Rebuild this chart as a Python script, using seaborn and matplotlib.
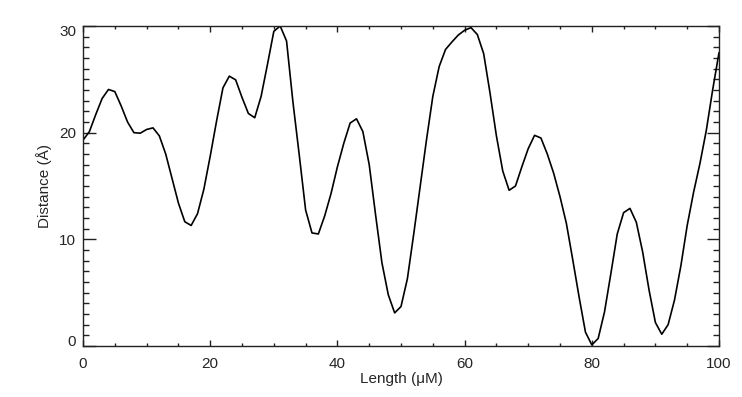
# ============================================================
# Distance profile along length
# ============================================================

import numpy as np
import pandas as pd
import matplotlib
matplotlib.use("Agg")
import matplotlib.pyplot as plt
import matplotlib.transforms as mtransforms
from matplotlib.ticker import MultipleLocator
import seaborn as sns

# ============================================================
# Data (one point per unit of length)
# ============================================================

length = list(range(0, 101))

distance = [
    19.3, 20.1, 21.7, 23.2, 24.05, 23.85, 22.5, 21.0, 20.0, 19.95,
    20.3, 20.45, 19.7, 18.0, 15.7, 13.4, 11.65, 11.3, 12.4, 14.7,
    17.8, 21.1, 24.2, 25.3, 24.95, 23.3, 21.8, 21.4, 23.4, 26.4,
    29.5, 30.0, 28.6, 22.9, 17.9, 12.75, 10.6, 10.5, 12.2, 14.3,
    16.8, 19.0, 20.9, 21.3, 20.1, 17.0, 12.3, 7.8, 4.8, 3.1,
    3.7, 6.3, 10.5, 14.9, 19.3, 23.4, 26.2, 27.8, 28.5, 29.15,
    29.6, 29.85, 29.2, 27.4, 23.7, 19.7, 16.4, 14.6, 15.0, 16.8,
    18.5, 19.75, 19.5, 18.0, 16.2, 14.0, 11.5, 8.1, 4.6, 1.3,
    0.1, 0.7, 3.2, 6.8, 10.5, 12.5, 12.9, 11.6, 8.8, 5.25,
    2.2, 1.1, 2.0, 4.3, 7.5, 11.3, 14.4, 17.1, 20.2, 24.0,
    27.5
]

x_ticks = [0, 20, 40, 60, 80, 100]
y_ticks = [0, 10, 20, 30]

df = pd.DataFrame({"Length": length, "Distance": distance})

# ============================================================
# Style
# ============================================================

sns.set_style("ticks")
plt.rcParams["font.family"] = ["Liberation Sans", "DejaVu Sans"]
plt.rcParams["font.size"] = 11
plt.rcParams["axes.linewidth"] = 1.0
plt.rcParams["axes.edgecolor"] = "#222222"

# ============================================================
# Plot
# ============================================================

fig = plt.figure(figsize=(7.42, 3.97), dpi=100)
ax = fig.add_axes([0.1119, 0.1285, 0.969 - 0.1119, 0.9345 - 0.1285])

sns.lineplot(
    data=df,
    x="Length",
    y="Distance",
    color="black",
    linewidth=1.2,
    ax=ax
)

ax.set_xlim(0, 100)
ax.set_ylim(0, 30)

ax.set_xticks(x_ticks)
ax.set_yticks(y_ticks)
ax.xaxis.set_minor_locator(MultipleLocator(5))
ax.yaxis.set_minor_locator(MultipleLocator(1))

for side in ["top", "right", "left", "bottom"]:
    ax.spines[side].set_visible(True)

ax.tick_params(axis="x", which="both", direction="in",
               top=True, bottom=True, color="#222222",
               labelsize=11, pad=8)
ax.tick_params(axis="x", which="major", length=4.4, width=1.0)
ax.tick_params(axis="x", which="minor", length=2.3, width=1.0)

ax.tick_params(axis="y", which="both", direction="in",
               left=True, right=True, color="#222222",
               labelsize=11, pad=5)
ax.tick_params(axis="y", which="major", length=9.0, width=1.0)
ax.tick_params(axis="y", which="minor", length=4.6, width=1.0)

ax.set_xlabel("Length (\u03bcM)", fontsize=11, labelpad=1)
ax.set_ylabel("Distance (\u00c5)", fontsize=11, labelpad=5)

# end labels of y axis sit a bit inside the frame
fig.canvas.draw()
ylabels = ax.get_yticklabels()
ylabels[0].set_transform(ylabels[0].get_transform() +
                         mtransforms.ScaledTranslation(0, 4 / 72, fig.dpi_scale_trans))
ylabels[-1].set_transform(ylabels[-1].get_transform() +
                          mtransforms.ScaledTranslation(0, -3 / 72, fig.dpi_scale_trans))

plt.savefig("out.png", dpi=100)
plt.close()
